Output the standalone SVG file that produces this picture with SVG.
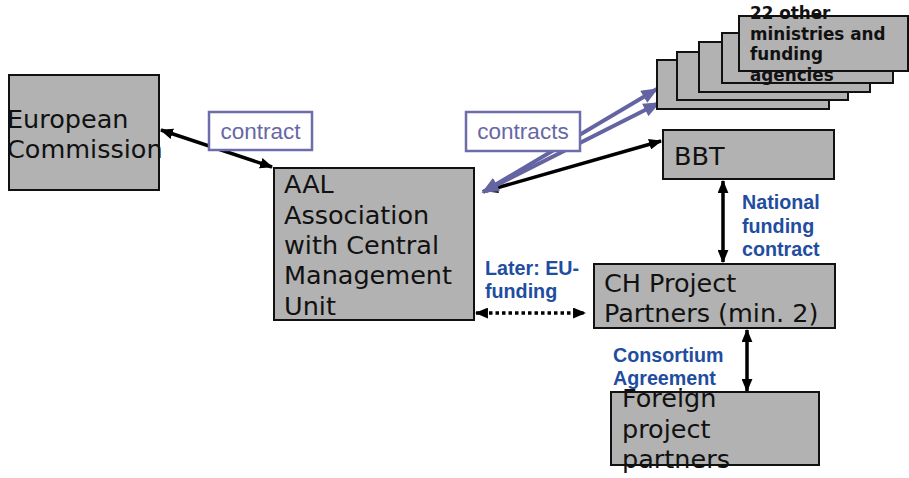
<svg xmlns="http://www.w3.org/2000/svg" width="909" height="478" viewBox="0 0 909 478">
<style>
.box{fill:#b2b2b2;stroke:#111;stroke-width:2}
.nt{font-family:"DejaVu Sans",sans-serif;font-size:25.5px;fill:#111}
.st{font-family:"DejaVu Sans",sans-serif;font-size:16.8px;font-weight:bold;fill:#111}
.bl{font-family:"Liberation Sans",Arial,sans-serif;font-size:19.7px;font-weight:bold;fill:#1f4d9f}
.pl{font-family:"Liberation Sans",Arial,sans-serif;font-size:22.5px;fill:#6767a6;text-anchor:middle}
.lb{fill:#fff;stroke:#6d6dab;stroke-width:2.5}
.ln{stroke:#000;stroke-width:3.5;fill:none}
.pu{stroke:#6464a2;stroke-width:4;fill:none}
</style>
<defs>
<marker id="ah" viewBox="0 0 12 10" refX="11" refY="5" markerWidth="13" markerHeight="11" markerUnits="userSpaceOnUse" orient="auto-start-reverse">
<path d="M0,0 L12,5 L0,10 Z" fill="#000"/>
</marker>
<marker id="ap" viewBox="0 0 12 10" refX="11" refY="5" markerWidth="17" markerHeight="14" markerUnits="userSpaceOnUse" orient="auto-start-reverse">
<path d="M0,0 L12,5 L0,10 Z" fill="#6464a2"/>
</marker>
</defs>

<g id="connectors">
<line class="ln" x1="161" y1="130" x2="272" y2="167" marker-start="url(#ah)" marker-end="url(#ah)"/>
<line class="ln" x1="486" y1="191" x2="661" y2="141" marker-start="url(#ah)" marker-end="url(#ah)"/>
<line class="pu" x1="483" y1="192" x2="657" y2="89" marker-start="url(#ap)" marker-end="url(#ap)"/>
<line class="pu" x1="483" y1="192" x2="659" y2="103" marker-start="url(#ap)" marker-end="url(#ap)"/>
<line class="ln" x1="723" y1="181" x2="723" y2="262" marker-start="url(#ah)" marker-end="url(#ah)"/>
<line class="ln" x1="747" y1="330" x2="747" y2="391" marker-start="url(#ah)" marker-end="url(#ah)"/>
<line class="ln" x1="476" y1="313" x2="585" y2="313" stroke-dasharray="3.5 3" marker-start="url(#ah)" marker-end="url(#ah)"/>
</g>

<g id="label-contract">
<rect class="lb" x="209" y="112" width="103" height="38"/>
<text class="pl" x="260.5" y="139">contract</text>
</g>
<g id="label-contracts">
<rect class="lb" x="466" y="112" width="114" height="39"/>
<text class="pl" x="523" y="139">contracts</text>
</g>

<g id="node-ec">
<rect class="box" x="9" y="75" width="150" height="115"/>
<text class="nt" x="7" y="128">European</text>
<text class="nt" x="7" y="158">Commission</text>
</g>

<g id="node-aal">
<rect class="box" x="274" y="168" width="200" height="152"/>
<text class="nt" x="284" y="193">AAL</text>
<text class="nt" x="284" y="224">Association</text>
<text class="nt" x="284" y="254">with Central</text>
<text class="nt" x="284" y="284">Management</text>
<text class="nt" x="284" y="315">Unit</text>
</g>

<g id="node-ministries">
<rect class="box" x="657" y="60" width="172" height="49"/>
<rect class="box" x="677" y="52" width="171" height="48"/>
<rect class="box" x="699" y="42" width="171" height="50"/>
<rect class="box" x="722" y="33" width="171" height="50"/>
<rect class="box" x="739" y="16" width="169" height="55"/>
<text class="st" x="750" y="19">22 other</text>
<text class="st" x="750" y="40">ministries and</text>
<text class="st" x="750" y="60">funding</text>
<text class="st" x="750" y="81">agencies</text>
</g>

<g id="node-bbt">
<rect class="box" x="663" y="130" width="171" height="49"/>
<text class="nt" x="674" y="165">BBT</text>
</g>

<g id="node-ch">
<rect class="box" x="594" y="264" width="241" height="64"/>
<text class="nt" x="604" y="292">CH Project</text>
<text class="nt" x="604" y="322">Partners (min. 2)</text>
</g>

<g id="node-foreign">
<rect class="box" x="611" y="392" width="208" height="73"/>
<text class="nt" x="622" y="407">Foreign</text>
<text class="nt" x="622" y="438">project</text>
<text class="nt" x="622" y="468">partners</text>
</g>

<g id="labels">
<text class="bl" x="742" y="209">National</text>
<text class="bl" x="742" y="233">funding</text>
<text class="bl" x="742" y="256">contract</text>
<text class="bl" x="485" y="275">Later: EU-</text>
<text class="bl" x="485" y="298">funding</text>
<text class="bl" x="613" y="362">Consortium</text>
<text class="bl" x="613" y="385">Agreement</text>
</g>
</svg>
